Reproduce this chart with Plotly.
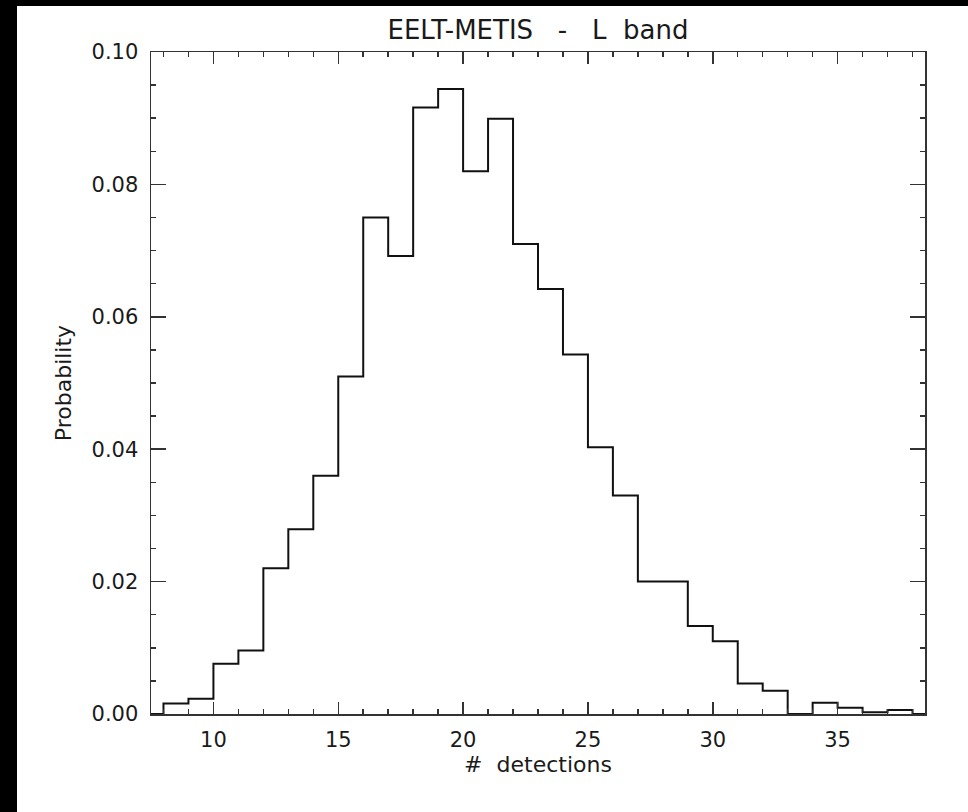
import plotly.graph_objects as go

# ---- data ----
bin_left_edges = list(range(8, 38))          # bins of width 1: 8-9, ..., 37-38
probability = [
    0.0016, 0.0023, 0.0076, 0.0096, 0.0220, 0.0279, 0.0360, 0.0510,
    0.0750, 0.0692, 0.0916, 0.0944, 0.0820, 0.0899, 0.0710, 0.0642,
    0.0543, 0.0403, 0.0330, 0.0200, 0.0200, 0.0133, 0.0110, 0.0046,
    0.0035, 0.0000, 0.0017, 0.00095, 0.00025, 0.0006,
]
bin_width = 1
x_range = [7.5, 38.5]
y_range = [0.0, 0.10]
x_tick_vals = [10, 15, 20, 25, 30, 35]
y_tick_vals = [0.00, 0.02, 0.04, 0.06, 0.08, 0.10]
title_text = "EELT-METIS\u00a0\u00a0 -\u00a0\u00a0 L\u00a0 band"
x_title = "#\u00a0 detections"
y_title = "Probability"

# step outline (IDL psym=10 style)
last_edge = bin_left_edges[-1] + bin_width
xs = [x_range[0]] + bin_left_edges + [last_edge, x_range[1]]
ys = [0.0] + probability + [0.0, 0.0]

FONT = "DejaVu Sans"
INK = "#1a1a1a"

fig = go.Figure()
fig.add_trace(go.Scatter(
    x=xs, y=ys, mode="lines", line=dict(shape="hv", color="#111111", width=2),
    hoverinfo="skip", showlegend=False,
))

W, H = 968, 812
L, R, T, B = 151, 43, 52, 98

# white page with a black strip on top and left, as in the reference
pw = W - L - R
ph = H - T - B
fig.add_shape(type="rect", xref="paper", yref="paper", layer="below",
              x0=(17 - L) / pw, x1=2, y0=-1, y1=(H - B - 6) / ph,
              fillcolor="white", line=dict(width=0))

axis_common = dict(
    showgrid=False, zeroline=False, showline=True, linecolor="#333333",
    linewidth=1.5, mirror="ticks", ticks="inside", tickcolor="#333333",
    tickwidth=1.5, tickfont=dict(family=FONT, size=21, color=INK),
)

fig.update_xaxes(
    range=x_range, tickvals=x_tick_vals, ticklen=12,
    minor=dict(dtick=1, tick0=0, ticks="inside", ticklen=5,
               tickcolor="#333333", tickwidth=1.5, showgrid=False),
    title=dict(text=x_title, font=dict(family=FONT, size=22, color=INK),
               standoff=6),
    ticklabelstandoff=6,
    **axis_common,
)
fig.update_yaxes(
    range=y_range, tickvals=y_tick_vals, tickformat=".2f", ticklen=15,
    minor=dict(dtick=0.005, tick0=0, ticks="inside", ticklen=5,
               tickcolor="#333333", tickwidth=1.5, showgrid=False),
    title=dict(text=y_title, font=dict(family=FONT, size=22, color=INK),
               standoff=14),
    ticklabelstandoff=7,
    **axis_common,
)

fig.update_layout(
    width=W, height=H,
    margin=dict(l=L, r=R, t=T, b=B, autoexpand=False),
    paper_bgcolor="black", plot_bgcolor="white",
    title=dict(text=title_text, font=dict(family=FONT, size=26, color=INK),
               x=0.5, xref="paper", xanchor="center",
               y=1 - 30 / H, yref="container", yanchor="middle"),
    showlegend=False,
)

fig.write_html(
    "out.html",
    config={"displayModeBar": False, "staticPlot": True},
    post_script="document.body.style.margin='0';document.body.style.overflow='hidden';",
)
